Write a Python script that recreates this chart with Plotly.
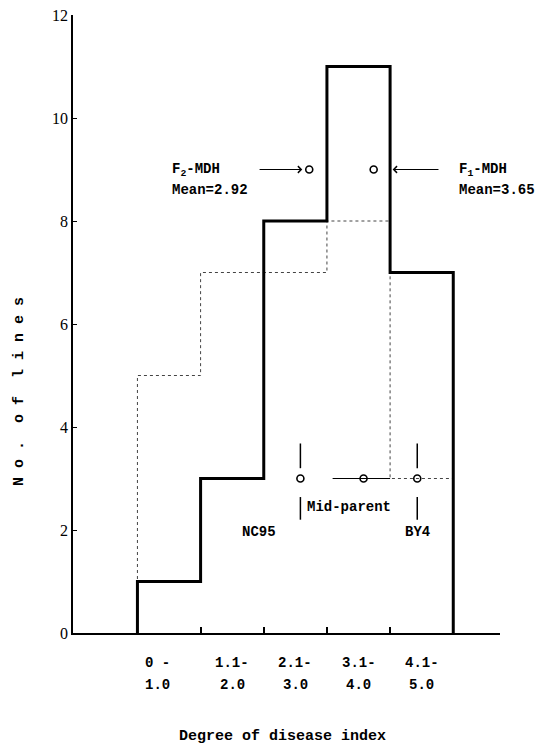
import plotly.graph_objects as go

# ---- data ----
bin_edges = [0, 1, 2, 3, 4, 5]
bin_top = ["0 -", "1.1-", "2.1-", "3.1-", "4.1-"]
bin_bottom = ["1.0", "2.0", "3.0", "4.0", "5.0"]
counts_f1 = [1, 3, 8, 11, 7]      # thick solid line
counts_f2 = [5, 7, 7, 8, 3]       # thin dotted line
y_ticks = [0, 2, 4, 6, 8, 10, 12]
f2_mean_pos = 2.72
f1_mean_pos = 3.74
mean_level = 9
nc95_pos = 2.58
midparent_pos = 3.58
by4_pos = 4.43
parent_level = 3

MONO = "Liberation Mono"
SERIF = "Liberation Serif"


def step_xy(edges, counts):
    xs = [edges[0]] + list(edges[:-1]) + [edges[-1], edges[-1]]
    ys = [0] + list(counts) + [counts[-1], 0]
    return xs, ys


fig = go.Figure()

x2, y2 = step_xy(bin_edges, counts_f2)
fig.add_trace(go.Scatter(x=x2, y=y2, mode="lines", line_shape="hv",
                         line=dict(color="#444", width=1, dash="dot"),
                         showlegend=False, hoverinfo="skip"))
x1, y1 = step_xy(bin_edges, counts_f1)
fig.add_trace(go.Scatter(x=x1, y=y1, mode="lines", line_shape="hv",
                         line=dict(color="black", width=3),
                         showlegend=False, hoverinfo="skip"))

# mid-parent line
fig.add_trace(go.Scatter(x=[3.09, 4.0], y=[parent_level, parent_level], mode="lines",
                         line=dict(color="black", width=1), showlegend=False, hoverinfo="skip"))

# open circles
fig.add_trace(go.Scatter(
    x=[f2_mean_pos, f1_mean_pos, nc95_pos, midparent_pos, by4_pos],
    y=[mean_level, mean_level, parent_level, parent_level, parent_level],
    mode="markers",
    marker=dict(symbol="circle-open", size=7, color="black", line=dict(width=1.6)),
    showlegend=False, hoverinfo="skip"))

# vertical bars at parents
for px in [nc95_pos, by4_pos]:
    fig.add_shape(type="line", x0=px, x1=px, y0=3.2, y1=3.68, line=dict(color="black", width=1.5))
    fig.add_shape(type="line", x0=px, x1=px, y0=2.2, y1=2.64, line=dict(color="black", width=1.5))

fnt = dict(family=MONO, size=14, color="black", weight="bold")
ann = []
# mean labels
ann.append(dict(x=0.52, y=mean_level, xref="x", yref="y", text="F<sub>2</sub>-MDH",
                xanchor="left", yanchor="middle", showarrow=False, font=fnt))
ann.append(dict(x=0.52, y=mean_level, xref="x", yref="y", text="Mean=2.92", yshift=-20,
                xanchor="left", yanchor="middle", showarrow=False, font=fnt))
ann.append(dict(x=5.06, y=mean_level, xref="x", yref="y", text="F<sub>1</sub>-MDH",
                xanchor="left", yanchor="middle", showarrow=False, font=fnt))
ann.append(dict(x=5.06, y=mean_level, xref="x", yref="y", text="Mean=3.65", yshift=-20,
                xanchor="left", yanchor="middle", showarrow=False, font=fnt))
# arrows
ann.append(dict(x=2.61, y=mean_level, ax=1.91, ay=mean_level, xref="x", yref="y",
                axref="x", ayref="y", text="", showarrow=True, arrowhead=4,
                arrowsize=1.3, arrowwidth=1, arrowcolor="black"))
ann.append(dict(x=4.04, y=mean_level, ax=4.79, ay=mean_level, xref="x", yref="y",
                axref="x", ayref="y", text="", showarrow=True, arrowhead=4,
                arrowsize=1.3, arrowwidth=1, arrowcolor="black"))
# parent labels
ann.append(dict(x=2.66, y=2.45, xref="x", yref="y", text="Mid-parent",
                xanchor="left", yanchor="middle", showarrow=False, font=fnt))
ann.append(dict(x=1.93, y=1.96, xref="x", yref="y", text="NC95",
                xanchor="center", yanchor="middle", showarrow=False, font=fnt))
ann.append(dict(x=by4_pos, y=1.96, xref="x", yref="y", text="BY4",
                xanchor="center", yanchor="middle", showarrow=False, font=fnt))

# category labels
for i in range(len(bin_top)):
    cx = (bin_edges[i] + bin_edges[i + 1]) / 2
    shift = -12 if i == 0 else 0
    ann.append(dict(x=cx, y=0, xref="x", yref="paper", text=bin_top[i], xshift=shift,
                    yshift=-30, xanchor="center", yanchor="middle", showarrow=False, font=fnt))
    ann.append(dict(x=cx, y=0, xref="x", yref="paper", text=bin_bottom[i], xshift=shift,
                    yshift=-52, xanchor="center", yanchor="middle", showarrow=False, font=fnt))

ann.append(dict(x=0.5, y=0, xref="paper", yref="paper", text="Degree of disease index",
                xshift=-4, yshift=-103, xanchor="center", yanchor="middle", showarrow=False,
                font=dict(family=MONO, size=15, color="black", weight="bold")))
ann.append(dict(x=-0.124, y=0.39, xref="paper", yref="paper", text="N o .  o f  l i n e s",
                textangle=-90, xanchor="center", yanchor="middle", showarrow=False,
                font=dict(family=MONO, size=15, color="black", weight="bold")))

fig.update_layout(
    template="none",
    width=552, height=747,
    margin=dict(l=73, r=52, t=15, b=114, autoexpand=False),
    paper_bgcolor="white", plot_bgcolor="white",
    annotations=ann,
    xaxis=dict(range=[-1.02, 5.74], showgrid=False, zeroline=False, automargin=False,
               showline=True, linecolor="black", linewidth=1.5,
               tickmode="array", tickvals=bin_edges[1:-1], ticks="inside",
               ticklen=6, tickcolor="black", tickwidth=1.5, showticklabels=False),
    yaxis=dict(range=[0, 12], showgrid=False, zeroline=False, automargin=False,
               showline=True, linecolor="black", linewidth=1.5,
               tickmode="array", tickvals=y_ticks, ticks="inside", ticklen=4,
               tickcolor="black", tickwidth=1,
               tickfont=dict(family=SERIF, size=16, color="black")),
)

# remove the default 8px page margin so the figure fills the window exactly
fig.write_html("out.html", config={"displayModeBar": False},
               post_script="document.body.style.margin='0';document.body.style.overflow='hidden';")
